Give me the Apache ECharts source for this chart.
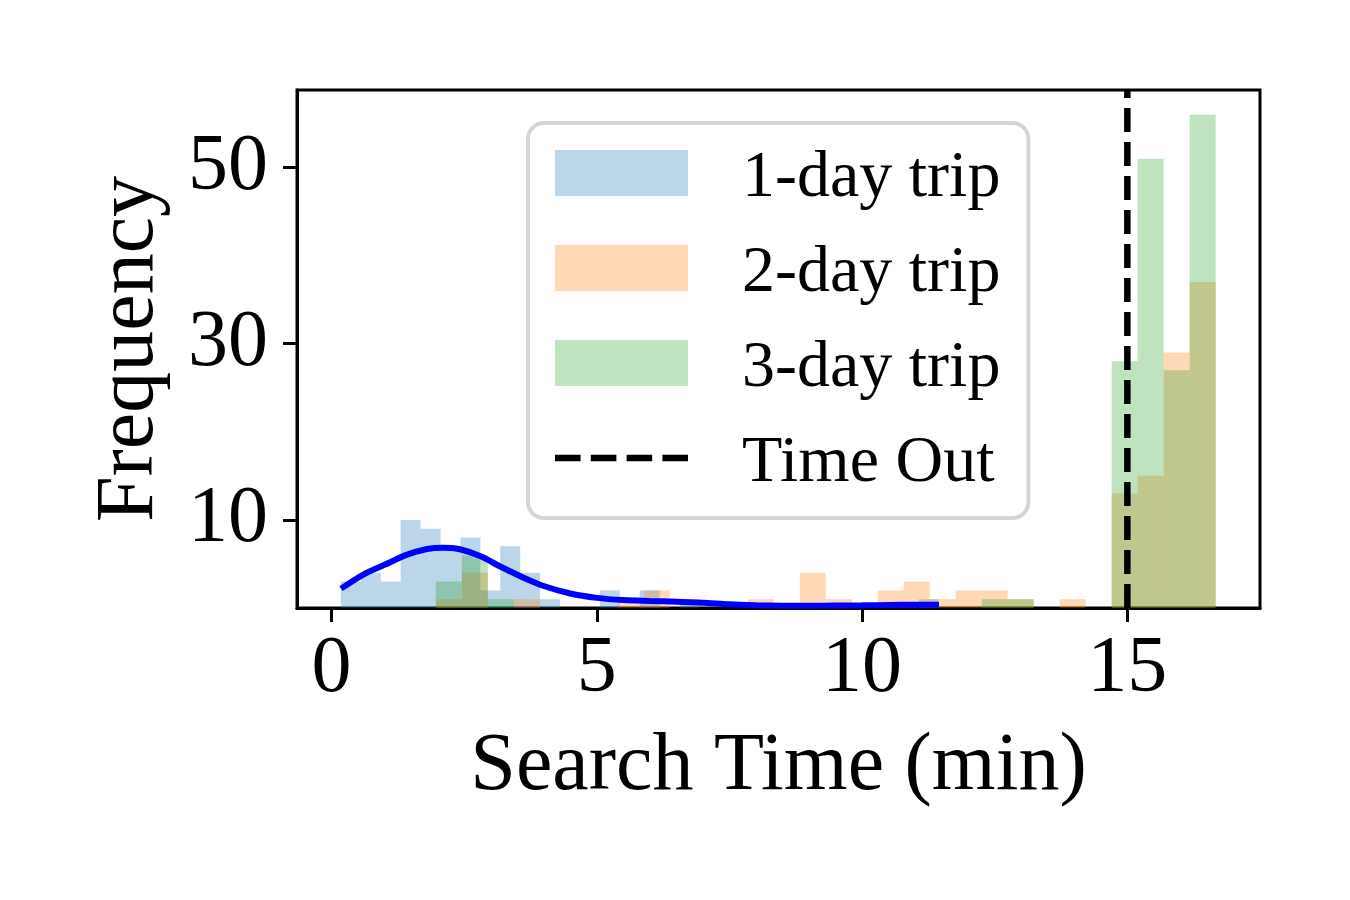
<!DOCTYPE html>
<html>
<head>
<meta charset="utf-8">
<script src="https://cdn.jsdelivr.net/npm/echarts@6/dist/echarts.min.js"></script>
<style>
html, body { margin: 0; padding: 0; background: #fff; }
#main { width: 1350px; height: 900px; }
</style>
</head>
<body>
<div id="main"></div>
<script>
// histogram bins, 30 per series
const blueStart = 0.177
const blueWidth = 0.3755
const blueCounts = [3, 4, 3, 10, 9, 7, 8, 2, 7, 4, 1, 0, 0, 2, 0, 2, 0, 1, 0, 0, 0, 0, 0, 0, 0, 0, 0, 0, 0, 1]

const tripStart = 1.967
const tripWidth = 0.4899
const orangeCounts = [1, 4, 0, 1, 0, 0, 0, 1, 2, 0, 0, 0, 1, 0, 4, 1, 0, 2, 3, 1, 2, 2, 1, 0, 1, 0, 13, 15, 29, 37]
const greenCounts = [3, 6, 1, 0, 0, 0, 0, 0, 0, 0, 0, 0, 0, 0, 0, 0, 0, 0, 0, 0, 0, 1, 1, 0, 0, 0, 28, 51, 27, 56]

// kde of the 1-day trips
const kdeX = [0.18, 0.6, 1.0, 1.4, 1.8, 2.1, 2.4, 2.8, 3.2, 3.6, 4.0, 4.5, 5.0, 5.5, 6.0, 6.5, 7.0, 7.5, 8.0, 8.5, 9.0, 9.5, 10.0, 10.5, 11.0, 11.45]
const kdeY = [2.2, 3.8, 4.9, 6.0, 6.7, 6.85, 6.7, 5.9, 4.65, 3.5, 2.5, 1.65, 1.15, 0.9, 0.8, 0.72, 0.6, 0.42, 0.32, 0.26, 0.25, 0.27, 0.3, 0.35, 0.38, 0.37]

const timeOut = 15
const xTicks = [0, 5, 10, 15]
const yTicks = [10, 30, 50]
const xRange = [-0.65, 17.5]
const yRange = [0, 58.8]

const font = 'Liberation Serif, Times New Roman, serif'
// dashed line for the legend icon
const dashIcon = 'path://M0,0H25V6.5H0Z M35,0H60V6.5H35Z M70,0H95V6.5H70Z M105,0H130V6.5H105Z'

function histSeries(name, counts, start, width, color) {
  return {
    name,
    type: 'custom',
    data: counts.map((c, i) => [start + i * width, start + (i + 1) * width, c]),
    encode: { x: [0, 1], y: 2 },
    itemStyle: { color },
    renderItem(params, api) {
      const a = api.coord([api.value(0), 0])
      const b = api.coord([api.value(1), api.value(2)])
      return {
        type: 'rect',
        shape: { x: a[0], y: b[1], width: b[0] - a[0], height: a[1] - b[1] },
        style: { fill: color },
      }
    },
    z: 2,
  }
}

const axisCommon = {
  type: 'value',
  nameLocation: 'middle',
  nameTextStyle: { fontFamily: font, fontSize: 82, color: '#000' },
  axisLine: { show: true, onZero: false, lineStyle: { color: '#000', width: 3 } },
  splitLine: { show: false },
}

const chart = echarts.init(document.getElementById('main'), null, { renderer: 'canvas' })

chart.setOption({
  animation: false,
  backgroundColor: '#fff',
  grid: {
    left: 297,
    right: 90,
    top: 90,
    bottom: 292,
    show: true,
    borderColor: '#000',
    borderWidth: 3,
    backgroundColor: 'transparent',
  },
  legend: {
    orient: 'vertical',
    left: 528,
    top: 123,
    padding: [11, 28, 21, 27],
    itemWidth: 133,
    itemHeight: 46,
    itemGap: 17,
    backgroundColor: 'rgba(255,255,255,0.8)',
    borderColor: '#d4d4d4',
    borderWidth: 4,
    borderRadius: 16,
    formatter: '{t|{name}}',
    textStyle: {
      fontFamily: font,
      fontSize: 66,
      color: '#000',
      padding: [0, 0, 0, 49],
      rich: {
        t: { fontFamily: font, fontSize: 66, color: '#000', lineHeight: 66, padding: [12, 0, 0, 0] },
      },
    },
    data: [
      { name: '1-day trip', icon: 'rect' },
      { name: '2-day trip', icon: 'rect' },
      { name: '3-day trip', icon: 'rect' },
      { name: 'Time Out', icon: dashIcon },
    ],
  },
  xAxis: {
    ...axisCommon,
    min: xRange[0],
    max: xRange[1],
    name: 'Search Time (min)',
    nameGap: 118,
    axisTick: { show: true, length: 14, lineStyle: { color: '#000', width: 3 }, customValues: xTicks },
    axisLabel: { fontFamily: font, fontSize: 80, color: '#000', margin: 22, customValues: xTicks },
  },
  yAxis: {
    ...axisCommon,
    min: yRange[0],
    max: yRange[1],
    name: 'Frequency',
    nameGap: 126,
    axisTick: { show: true, length: 14, lineStyle: { color: '#000', width: 3 }, customValues: yTicks },
    axisLabel: { fontFamily: font, fontSize: 80, color: '#000', margin: 29, customValues: yTicks },
  },
  series: [
    histSeries('1-day trip', blueCounts, blueStart, blueWidth, 'rgba(31,119,180,0.3)'),
    histSeries('2-day trip', orangeCounts, tripStart, tripWidth, 'rgba(255,127,14,0.3)'),
    histSeries('3-day trip', greenCounts, tripStart, tripWidth, 'rgba(44,160,44,0.3)'),
    {
      name: 'kde',
      type: 'line',
      data: kdeX.map((x, i) => [x, kdeY[i]]),
      smooth: 0.3,
      symbol: 'none',
      lineStyle: { color: '#0000ff', width: 6 },
      z: 4,
    },
    {
      name: 'Time Out',
      type: 'line',
      data: [[timeOut, yRange[0]], [timeOut, yRange[1]]],
      symbol: 'none',
      itemStyle: { color: '#000' },
      lineStyle: { color: '#000', width: 6.5, type: [24, 10] },
      z: 5,
    },
  ],
})
</script>
</body>
</html>
